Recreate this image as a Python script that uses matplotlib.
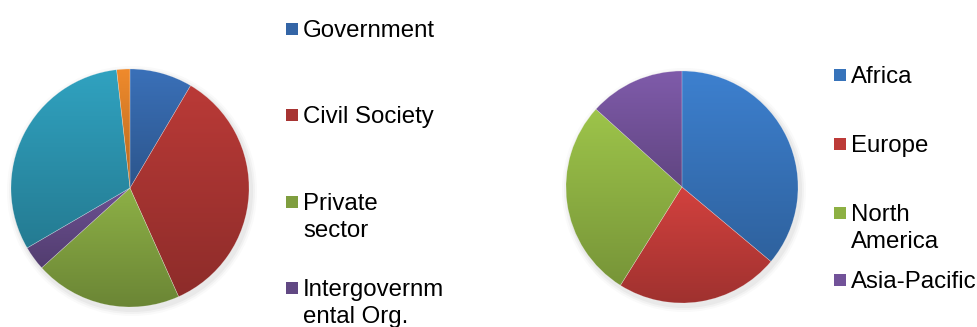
import numpy as np
import matplotlib
matplotlib.use("Agg")
import matplotlib.pyplot as plt
from matplotlib.colors import to_rgb
from matplotlib.patches import Rectangle, Circle

plt.rcParams['font.family'] = ['Liberation Sans', 'DejaVu Sans']

# left pie: stakeholder groups (% of total)
left_labels = ["Government", "Civil Society", "Private\nsector", "Intergovernm\nental Org.", "Other", "Other 2"]
left_values = [8.5, 34.8, 20.0, 3.3, 31.6, 1.8]
left_colors = ["#3a70b8", "#ba3a37", "#8db046", "#6c5092", "#30a2c0", "#ef8a2c"]
left_legend_n = 4  # legend in the picture only shows the first four

# right pie: regions
right_labels = ["Africa", "Europe", "North\nAmerica", "Asia-Pacific"]
right_values = [36.1, 22.8, 27.8, 13.3]
right_colors = ["#3d80cf", "#d2413e", "#9dc44a", "#7f5baa"]

W, H = 978, 327
fig = plt.figure(figsize=(W / 100, H / 100), dpi=100)
ax = fig.add_axes([0, 0, 1, 1])


def draw_pie(values, colors, center, radius):
    cx, cy = center
    # soft shadow behind the pie
    for k, a in zip([6, 4, 2], [0.04, 0.06, 0.08]):
        ax.add_patch(Circle((cx + 2, cy - 3), radius + k, color="gray", alpha=a, lw=0, zorder=0))
    wedges, _ = ax.pie(values, colors=colors, startangle=90, counterclock=False,
                       center=center, radius=radius, frame=True,
                       wedgeprops=dict(linewidth=0.4, edgecolor=(1, 1, 1, 0.3)))
    # vertical gradient inside each slice, lighter on top
    for w, c in zip(wedges, colors):
        top = np.array(to_rgb(c))
        bot = top * 0.76
        ext = w.get_path().get_extents()
        t = np.linspace(0, 1, 64)[:, None]
        grad = (bot * (1 - t) + top * t)[:, None, :]
        im = ax.imshow(grad, extent=(ext.x0, ext.x1, ext.y0, ext.y1), origin="lower",
                       aspect="auto", interpolation="bilinear", zorder=1)
        im.set_clip_path(w)
        w.set_zorder(2)
        w.set_facecolor("none")
    return wedges


def draw_legend(labels, colors, x, baselines):
    for lab, c, yb in zip(labels, colors, baselines):
        y = H - yb
        top = np.array(to_rgb(c))
        ax.add_patch(Rectangle((x, y + 2), 12, 12, facecolor=top * 0.9, edgecolor="none"))
        for i, line in enumerate(lab.split("\n")):
            ax.text(x + 17, y - 27 * i, line, fontsize=17.3, va="baseline", ha="left",
                    color="black")


draw_pie(left_values, left_colors, (130, H - 188), 119)
draw_pie(right_values, right_colors, (682, H - 187), 116)

draw_legend(left_labels[:left_legend_n], left_colors, 286, [36.7, 122.7, 210, 296])
draw_legend(right_labels, right_colors, 834, [83.3, 151.7, 220.7, 288.3])

ax.set_xlim(0, W)
ax.set_ylim(0, H)
ax.set_aspect("auto")
ax.axis("off")

fig.savefig("out.png", dpi=100, facecolor="white")
